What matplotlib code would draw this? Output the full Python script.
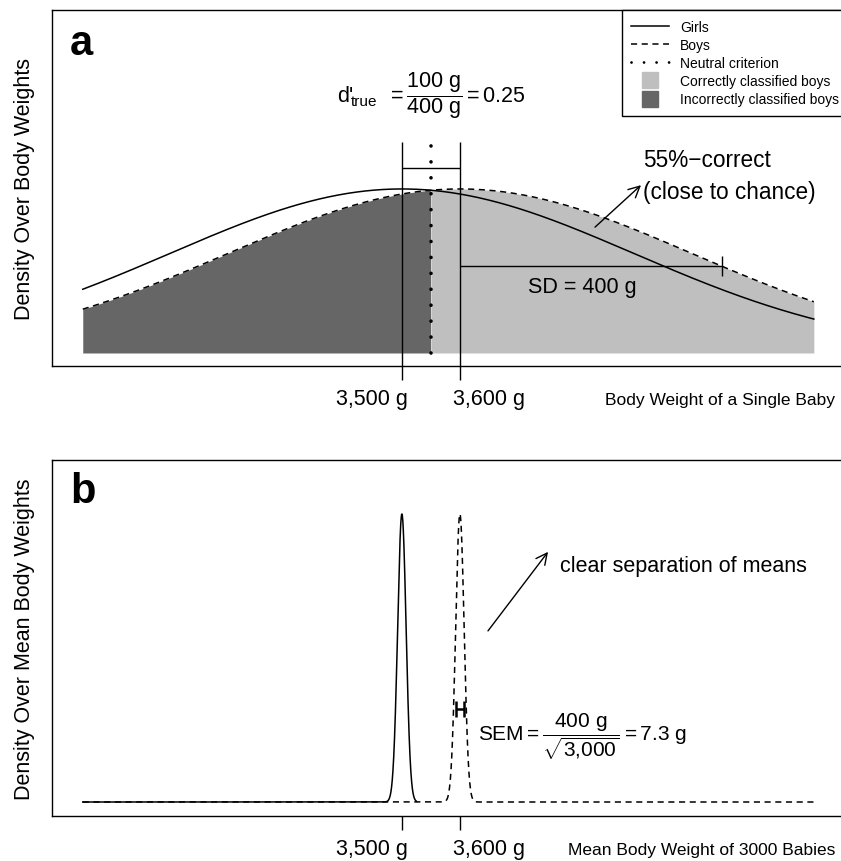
import numpy as np
import matplotlib.pyplot as plt
from matplotlib.lines import Line2D

plt.rcParams['font.family'] = ['Liberation Sans', 'DejaVu Sans']
plt.rcParams['mathtext.fontset'] = 'custom'
plt.rcParams['mathtext.rm'] = 'Liberation Sans'
plt.rcParams['mathtext.it'] = 'Liberation Sans:italic'
plt.rcParams['mathtext.bf'] = 'Liberation Sans:bold'

# ---- data ----
mean_girls = 3500
mean_boys = 3600
sd = 400
n_babies = 3000
weight_range = [2950, 4210]
girls_b_end = 3525          # solid girls curve in panel b stops here
tick_values = [3500, 3600]
tick_labels = ['3,500 g', '3,600 g']
sd_bar = [3600, 4052]
legend_labels = ['Girls', 'Boys', 'Neutral criterion',
                 'Correctly classified boys', 'Incorrectly classified boys']
colour_correct = '#bfbfbf'
colour_wrong = '#666666'

sem = sd / np.sqrt(n_babies)
criterion = (mean_girls + mean_boys) / 2


def density(x, m, s):
    return np.exp(-0.5 * ((x - m) / s) ** 2) / (s * np.sqrt(2 * np.pi))


def setup(ax, ylo, yhi):
    ax.set_xlim(2897, 4262)
    ax.set_ylim(ylo, yhi)
    ax.set_xticks(tick_values, ['', ''])
    ax.set_yticks([])
    ax.tick_params(axis='x', length=10, width=1, direction='out')
    for s in ax.spines.values():
        s.set_linewidth(1)
    # tick labels sit off-centre in the original: left one ends right of its tick,
    # right one starts left of its tick
    tr = ax.get_xaxis_transform()
    ax.text(tick_values[0] + 10, -0.092, tick_labels[0], transform=tr,
            fontsize=15.5, ha='right', va='center')
    ax.text(tick_values[1] - 12, -0.092, tick_labels[1], transform=tr,
            fontsize=15.5, ha='left', va='center')


fig = plt.figure(figsize=(8.41, 8.62), dpi=100)
ax_a = fig.add_axes([52 / 841, 1 - 367 / 862, 792 / 841, 356 / 862])
ax_b = fig.add_axes([52 / 841, 1 - 817 / 862, 792 / 841, 356 / 862])

# ---- panel a ----
x = np.linspace(weight_range[0], weight_range[1], 2000)
g = density(x, mean_girls, sd)
b = density(x, mean_boys, sd)
peak = density(0, 0, sd)
setup(ax_a, -0.0793 * peak, 2.091 * peak)

left = x <= criterion
ax_a.fill_between(x[left], 0, b[left], color=colour_wrong, lw=0)
ax_a.fill_between(x[x >= criterion], 0, b[x >= criterion], color=colour_correct, lw=0)
ax_a.plot(x, g, color='k', lw=1.1)
ax_a.plot(x, b, color='k', lw=1.1, ls=(0, (4, 3)))
ax_a.plot([criterion, criterion], [0, 1.274 * peak], color='k', lw=2.6,
          ls=(0, (0.01, 4.4)), dash_capstyle='round')
ax_a.vlines(tick_values, -0.0793 * peak, 1.287 * peak, color='k', lw=1)
ax_a.hlines(1.128 * peak, mean_girls, mean_boys, color='k', lw=1)
ax_a.hlines(0.53 * peak, sd_bar[0], sd_bar[1], color='k', lw=1)
ax_a.vlines(sd_bar[1], 0.47 * peak, 0.59 * peak, color='k', lw=1)

ax_a.text(0.0227, 0.876, 'a', transform=ax_a.transAxes, fontsize=30,
          fontweight='bold', ha='left', va='baseline')
ax_a.text(0.3598, 0.7444, "d'", transform=ax_a.transAxes, fontsize=15.5,
          ha='left', va='baseline')
ax_a.text(0.3775, 0.733, 'true', transform=ax_a.transAxes, fontsize=11,
          ha='left', va='baseline')
ax_a.text(0.4225, 0.761, r'$= \dfrac{100\ \mathrm{g}}{400\ \mathrm{g}} = 0.25$',
          transform=ax_a.transAxes, fontsize=15.5, ha='left', va='center')
ax_a.text(0.7462, 0.534, '55%\u2212correct\n(close to chance)', transform=ax_a.transAxes,
          fontsize=16.3, ha='left', va='center', linespacing=1.5)
ax_a.annotate('', xy=(0.7437, 0.508), xytext=(0.6856, 0.390), xycoords='axes fraction',
              arrowprops=dict(arrowstyle='->', color='k', lw=1, shrinkA=0, shrinkB=0,
                              mutation_scale=20))
ax_a.text(0.601, 0.2247, 'SD = 400 g', transform=ax_a.transAxes, fontsize=15.5,
          ha='left', va='center')
ax_a.text(0.9886, -0.0927, 'Body Weight of a Single Baby', transform=ax_a.transAxes,
          fontsize=12.5, ha='right', va='center')

handles = [Line2D([], [], color='k', lw=1.1),
           Line2D([], [], color='k', lw=1.1, ls=(0, (4, 3))),
           Line2D([], [], color='k', lw=2, ls=(0, (0.01, 4.5)), dash_capstyle='round'),
           Line2D([], [], ls='none', marker='s', ms=11, mfc=colour_correct, mec=colour_correct),
           Line2D([], [], ls='none', marker='s', ms=11, mfc=colour_wrong, mec=colour_wrong)]
leg = ax_a.legend(handles, legend_labels, loc='upper right', bbox_to_anchor=(1.006, 1),
                  borderaxespad=0, fancybox=False, edgecolor='k', framealpha=1,
                  fontsize=10, handlelength=2.7, handletextpad=0.8,
                  labelspacing=0.3, borderpad=0.7)
leg.get_frame().set_linewidth(1)

# ---- panel b ----
xb = np.linspace(weight_range[0], weight_range[1], 40000)
gb = density(xb, mean_girls, sem)
bb = density(xb, mean_boys, sem)
peak_b = density(0, 0, sem)
setup(ax_b, -0.0486 * peak_b, 1.1875 * peak_b)

ax_b.plot(xb[xb <= girls_b_end], gb[xb <= girls_b_end], color='k', lw=1.1)
ax_b.plot(xb, bb, color='k', lw=1.1, ls=(0, (4, 3)))
ax_b.hlines(0.323 * peak_b, mean_boys - sem, mean_boys + sem, color='k', lw=1.8)
ax_b.vlines([mean_boys - sem, mean_boys + sem], 0.295 * peak_b, 0.351 * peak_b,
            color='k', lw=1.8)

ax_b.text(0.0227, 0.882, 'b', transform=ax_b.transAxes, fontsize=30,
          fontweight='bold', ha='left', va='baseline')
ax_b.text(0.6414, 0.705, 'clear separation of means', transform=ax_b.transAxes,
          fontsize=15.5, ha='left', va='center')
ax_b.annotate('', xy=(0.6263, 0.742), xytext=(0.5505, 0.520), xycoords='axes fraction',
              arrowprops=dict(arrowstyle='->', color='k', lw=1, shrinkA=0, shrinkB=0,
                              mutation_scale=20))
ax_b.text(0.5379, 0.226, r'$\mathrm{SEM} = \dfrac{400\ \mathrm{g}}{\sqrt{3{,}000}} = 7.3\ \mathrm{g}$',
          transform=ax_b.transAxes, fontsize=15, ha='left', va='center')
ax_b.text(0.9886, -0.0927, 'Mean Body Weight of 3000 Babies', transform=ax_b.transAxes,
          fontsize=12.5, ha='right', va='center')

fig.text(0.0297, 1 - 189 / 862, 'Density Over Body Weights', rotation=90,
         ha='center', va='center', fontsize=15.5)
fig.text(0.0297, 1 - 639 / 862, 'Density Over Mean Body Weights', rotation=90,
         ha='center', va='center', fontsize=15.5)

fig.savefig('out.png', dpi=100)
